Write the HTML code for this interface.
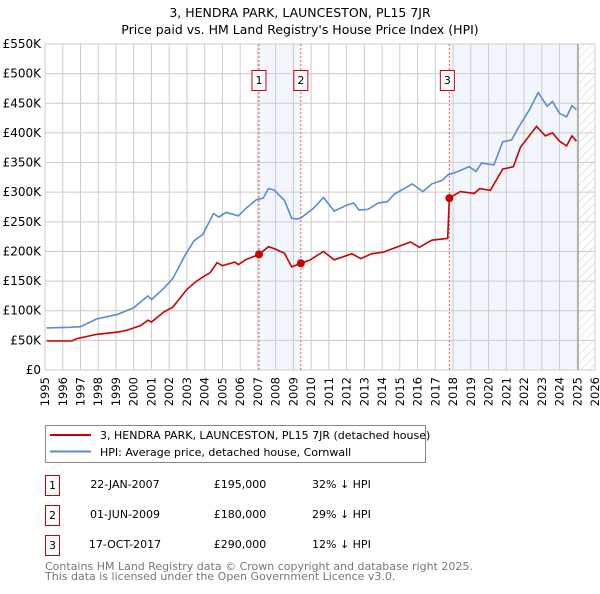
<!DOCTYPE html>
<html><head><meta charset="utf-8"><style>
body{margin:0;background:#fff;width:600px;height:590px;overflow:hidden;font-family:"DejaVu Sans","Liberation Sans",sans-serif;}
svg text{font-family:"DejaVu Sans","Liberation Sans",sans-serif;}
</style></head><body>
<svg id="c" width="600" height="590" viewBox="0 0 600 590" xmlns="http://www.w3.org/2000/svg">
<defs><pattern id="hatch" width="6" height="6" patternUnits="userSpaceOnUse" patternTransform="rotate(45)"><line x1="0" y1="0" x2="0" y2="6" stroke="#ccc" stroke-width="1"/></pattern></defs>
<text x="300" y="17" text-anchor="middle" font-size="12.5">3, HENDRA PARK, LAUNCESTON, PL15 7JR</text>
<text x="300" y="34" text-anchor="middle" font-size="12.5">Price paid vs. HM Land Registry's House Price Index (HPI)</text>
<g id="plot"></g>
<g>
<rect x="45.5" y="425.5" width="380" height="37" fill="#fff" stroke="#888"/>
<line x1="50" y1="435" x2="91" y2="435" stroke="#cc0000" stroke-width="2"/>
<text x="100" y="439" font-size="11">3, HENDRA PARK, LAUNCESTON, PL15 7JR (detached house)</text>
<line x1="50" y1="451.5" x2="91" y2="451.5" stroke="#5b8bd0" stroke-width="2"/>
<text x="100" y="456" font-size="11">HPI: Average price, detached house, Cornwall</text>
</g>
<g font-size="11">
<rect x="45.5" y="475.5" width="14" height="20" fill="#fff" stroke="#cc0000"/><text x="52.5" y="489" text-anchor="middle">1</text>
<text x="125" y="488" text-anchor="middle">22-JAN-2007</text><text x="240" y="488" text-anchor="middle">£195,000</text><text x="312" y="488">32% ↓ HPI</text>
<rect x="45.5" y="505.5" width="14" height="20" fill="#fff" stroke="#cc0000"/><text x="52.5" y="519" text-anchor="middle">2</text>
<text x="125" y="518" text-anchor="middle">01-JUN-2009</text><text x="240" y="518" text-anchor="middle">£180,000</text><text x="312" y="518">29% ↓ HPI</text>
<rect x="45.5" y="535.5" width="14" height="20" fill="#fff" stroke="#cc0000"/><text x="52.5" y="549" text-anchor="middle">3</text>
<text x="125" y="548" text-anchor="middle">17-OCT-2017</text><text x="240" y="548" text-anchor="middle">£290,000</text><text x="312" y="548">12% ↓ HPI</text>
</g>
<text x="45" y="570" font-size="11" fill="#777">Contains HM Land Registry data © Crown copyright and database right 2025.</text>
<text x="45" y="580" font-size="11" fill="#777">This data is licensed under the Open Government Licence v3.0.</text>
</svg>
<script>
const yearTicks=[1995,1996,1997,1998,1999,2000,2001,2002,2003,2004,2005,2006,2007,2008,2009,2010,2011,2012,2013,2014,2015,2016,2017,2018,2019,2020,2021,2022,2023,2024,2025,2026];
const valueTicks=[0,50,100,150,200,250,300,350,400,450,500,550];
const valueTickLabels=["£0","£50K","£100K","£150K","£200K","£250K","£300K","£350K","£400K","£450K","£500K","£550K"];
const hpiYears=[1995.09,1996.4,1997,1997.9,1999.1,2000,2000.8,2001,2001.7,2002.2,2002.9,2003.4,2003.9,2004.5,2004.8,2005.2,2005.9,2006.3,2006.9,2007.3,2007.6,2007.9,2008.5,2008.9,2009.2,2009.4,2010.1,2010.7,2011.3,2012,2012.4,2012.7,2013.2,2013.8,2014.3,2014.7,2015.7,2016.3,2016.8,2017.4,2017.7,2018.3,2018.9,2019.3,2019.6,2020.3,2020.8,2021.3,2021.7,2022.3,2022.8,2023.3,2023.6,2024,2024.4,2024.7,2024.95];
const hpiValues=[71,72,73,86,94,105,125,119,138,154,194,218,229,264,258,266,260,272,287,290,306,304,286,256,255,256,272,291,268,278,282,270,271,282,284,297,314,301,314,320,329,335,343,335,349,346,385,388,410,439,468,445,453,433,427,446,439];
const priceYears=[1995.09,1996.5,1996.8,1997.9,1999.1,1999.6,2000.4,2000.8,2001,2001.7,2002.2,2003,2003.5,2003.9,2004.3,2004.7,2005,2005.7,2005.9,2006.3,2007.06,2007.6,2007.9,2008.5,2008.9,2009.42,2009.9,2010.7,2011.3,2012.3,2012.8,2013.4,2014.1,2014.8,2015.6,2016.1,2016.8,2017.7,2017.79,2018.4,2019.2,2019.5,2020.1,2020.8,2021.4,2021.8,2022.7,2023.2,2023.6,2024,2024.4,2024.7,2024.95];
const priceValues=[49,49,53,60,64,67,75,84,81,98,106,136,149,157,164,181,176,182,178,186,195,208,205,197,174,180,185,200,186,196,188,196,199,207,216,207,219,222,290,301,298,306,303,339,343,376,411,395,400,386,378,395,386];
const saleYears=[2007.06,2009.42,2017.79];
const saleValues=[195,180,290];
const saleLabels=["1","2","3"];

const X0=45,X1=595,Y0=370,Y1=44;
const xs=y=>X0+(y-1995)/(2026-1995)*(X1-X0);
const ys=v=>Y0-v/550*(Y0-Y1);
const NS="http://www.w3.org/2000/svg";
const plot=document.getElementById('plot');
function mk(tag,attrs,parent){const e=document.createElementNS(NS,tag);for(const k in attrs)e.setAttribute(k,attrs[k]);(parent||plot).appendChild(e);return e;}
mk('rect',{x:X0,y:Y1,width:X1-X0,height:Y0-Y1,fill:'#fff'});
let r=mk('rect',{x:xs(saleYears[0]),y:Y1,width:xs(saleYears[1])-xs(saleYears[0]),height:Y0-Y1,fill:'#f3f6fd'});


r=mk('rect',{x:xs(saleYears[2]),y:Y1,width:xs(2025.05)-xs(saleYears[2]),height:Y0-Y1,fill:'#f3f6fd'});


r=mk('rect',{x:xs(2025.05),y:Y1,width:X1-xs(2025.05),height:Y0-Y1,fill:'url(#hatch)'});


yearTicks.forEach(t=>{
  mk('line',{x1:xs(t),x2:xs(t),y1:Y1,y2:Y0,stroke:'#ccc','stroke-width':1});
  const tx=mk('text',{x:xs(t),y:Y0+7,'font-size':11.5,'text-anchor':'end',transform:`rotate(-90 ${xs(t)} ${Y0+7})`,dy:'0.35em'});
  tx.textContent=t;
  
  
});
valueTicks.forEach((t,i)=>{
  mk('line',{x1:X0,x2:X1,y1:ys(t),y2:ys(t),stroke:'#ccc','stroke-width':1});
  const tx=mk('text',{x:X0-4,y:ys(t)+4,'font-size':12,'text-anchor':'end'});
  tx.textContent=valueTickLabels[i];
  
  
});
mk('rect',{x:X0,y:Y1,width:X1-X0,height:Y0-Y1,fill:'none',stroke:'#ccc'});
mk('line',{x1:xs(2025.05),x2:xs(2025.05),y1:Y1,y2:Y0,stroke:'#999','stroke-width':1.2});
saleYears.forEach((y,i)=>{
  const l=mk('line',{x1:xs(y),x2:xs(y),y1:Y1,y2:Y0,stroke:'#e55','stroke-width':1,'stroke-dasharray':'2,2'});
  
  
  mk('rect',{x:xs(y)-7-(i==2?2:0),y:70.5,width:14,height:20,fill:'#fff',stroke:'#cc0000'});
  const tx=mk('text',{x:xs(y)-(i==2?2:0),y:84,'font-size':11,'text-anchor':'middle'});
  tx.textContent=saleLabels[i];
  
  
});
const pts=(a,b)=>a.map((y,i)=>xs(y).toFixed(1)+','+ys(b[i]).toFixed(1)).join(' ');
const hl=mk('polyline',{points:pts(hpiYears,hpiValues),fill:'none',stroke:'#5b8bd0','stroke-width':1.6});


const pl=mk('polyline',{points:pts(priceYears,priceValues),fill:'none',stroke:'#cc0000','stroke-width':1.6});


saleYears.forEach((y,i)=>{
  const c=mk('circle',{cx:xs(y),cy:ys(saleValues[i]),r:4,fill:'#cc0000'});
  
  
});
</script>
</body></html>
